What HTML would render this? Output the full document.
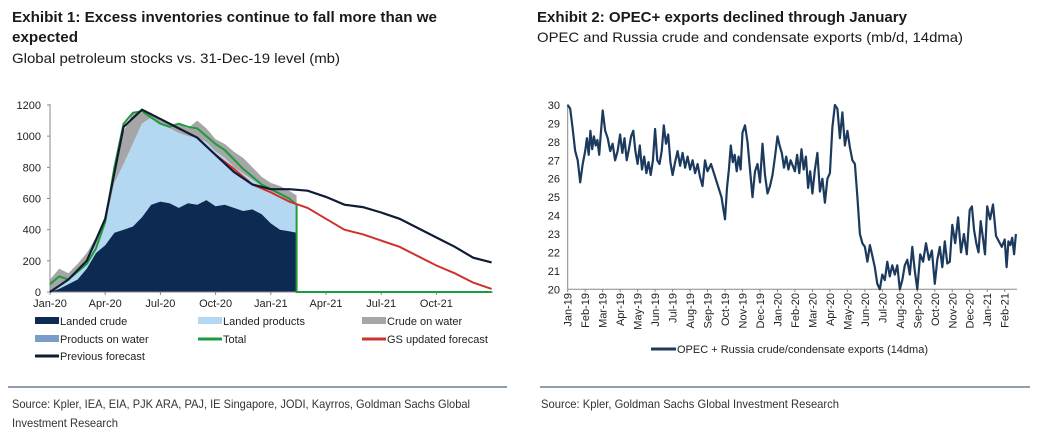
<!DOCTYPE html>
<html><head><meta charset="utf-8"><style>
body{margin:0;background:#fff;width:1038px;height:434px;overflow:hidden;font-family:"Liberation Sans",sans-serif}
svg{display:block}
</style></head><body>
<svg id="s" width="1038" height="434" viewBox="0 0 1038 434" xmlns="http://www.w3.org/2000/svg" font-family="Liberation Sans, sans-serif">
<g fill="#1a1a1a">
<text x="12" y="22" font-size="15" font-weight="bold" textLength="425" lengthAdjust="spacingAndGlyphs">Exhibit 1: Excess inventories continue to fall more than we</text>
<text x="12" y="42" font-size="15" font-weight="bold" textLength="66" lengthAdjust="spacingAndGlyphs">expected</text>
<text x="12" y="63" font-size="14" textLength="328" lengthAdjust="spacingAndGlyphs">Global petroleum stocks vs. 31-Dec-19 level (mb)</text>
<text x="537" y="22" font-size="15" font-weight="bold" textLength="370" lengthAdjust="spacingAndGlyphs">Exhibit 2: OPEC+ exports declined through January</text>
<text x="537" y="42" font-size="14" textLength="426" lengthAdjust="spacingAndGlyphs">OPEC and Russia crude and condensate exports (mb/d, 14dma)</text>
</g>
<line x1="8" y1="387" x2="507" y2="387" stroke="#1f3864" stroke-width="1"/>
<line x1="540" y1="387" x2="1030" y2="387" stroke="#1f3864" stroke-width="1"/>
<g fill="#333" font-size="12">
<text x="12" y="408" textLength="458" lengthAdjust="spacingAndGlyphs">Source: Kpler, IEA, EIA, PJK ARA, PAJ, IE Singapore, JODI, Kayrros, Goldman Sachs Global</text>
<text x="12" y="427" textLength="106" lengthAdjust="spacingAndGlyphs">Investment Research</text>
<text x="541" y="408" textLength="298" lengthAdjust="spacingAndGlyphs">Source: Kpler, Goldman Sachs Global Investment Research</text>
</g>
<g id="c1"></g><g id="c2"></g>
</svg>
<script>
// Chart 1 data (months since Jan-20)
const histMonths=[0,0.5,1,1.5,2,2.5,3,3.5,4,4.5,5,5.5,6,6.5,7,7.5,8,8.5,9,9.5,10,10.5,11,11.5,12,12.5,13,13.4];
const landedCrude=[0,20,50,80,150,250,300,380,400,420,480,560,580,570,540,570,560,590,550,560,540,520,530,500,440,400,390,380];
const landedProductsTop=[0,50,80,130,200,300,430,700,820,950,1080,1120,1080,1050,1020,1000,990,960,900,860,800,760,720,680,650,620,580,560];
const crudeOnWaterTop=[80,150,120,180,250,350,480,820,1030,1150,1150,1150,1100,1080,1080,1050,1100,1050,980,950,900,860,800,740,700,680,650,620];
const totalVals=[50,100,80,130,180,280,450,800,1080,1150,1160,1120,1080,1060,1080,1060,1050,1000,950,910,850,790,740,690,660,630,600,560];
const prevMonths=[0,1,2,3,4,5,6,7,8,9,10,11,12,13,14,15,16,17,18,19,20,21,22,23,24];
const prevForecast=[0,80,200,470,1060,1170,1110,1050,990,880,770,690,660,660,650,610,560,545,510,470,410,350,290,220,190];
const gsMonths=[9,10,11,12,13,14,15,16,17,18,19,20,21,22,23,24];
const gsForecast=[880,790,690,640,580,540,470,400,370,330,290,230,170,120,60,20];
const xLabels1=["Jan-20","Apr-20","Jul-20","Oct-20","Jan-21","Apr-21","Jul-21","Oct-21"];
const yTicks1=[0,200,400,600,800,1000,1200];
// Chart 2 data: readings grouped by month, Jan-19 .. Feb-21
const exportsByMonth=[
[30,29.8,28.7,27.5,27.0,25.8,26.8],
[27.5,28.2,27.3,28.6,27.6,28.3,27.8,28.1,27.3,28.5],
[29.7,28.6,28.2,27.5,27.9,27.0,27.5],
[28.4,27.4,28.2,27.0,27.6,28.3,28.6,27.5],
[26.8,27.8,26.5,27.2,26.3,26.9,26.2,27.0],
[28.7,27.0,26.8,27.5,28.9,27.9,28.4,26.9],
[26.2,26.9,27.5,26.7,27.4,26.6,27.2],
[26.5,27.0,26.3,26.8,26.1,25.6,27.0],
[26.4,26.8,26.2,25.6,25.0],
[23.8,25.5,26.5,27.8,26.9,27.3,26.4,27.2,26.5],
[28.5,28.9,28.0,26.5,25.0,26.4,26.8],
[25.8,27.9,26.2,25.2,25.6,26.2,27.2],
[28.3,27.8,27.4,26.6,27.2,26.5,27.0,26.7],
[26.4,27.3,26.3,27.6,26.5,27.2,25.5,26.4],
[25.2,26.5,27.4,25.3,26.0,24.7,26.0],
[26.3,28.8,30.0,29.8,28.2,29.6,27.8],
[28.6,27.7,27.0,26.8,25.0,23.0,22.5],
[22.3,21.5,22.4,21.8,21.2,20.3,20.0],
[20.8,20.5,21.5,20.7,21.3,20.8,21.3],
[20.0,20.5,21.3,21.6,20.8,22.3,21.0],
[20.0,21.9,21.5,22.5,21.6,22.1],
[20.3,21.6,22.3,21.2,22.6,21.4,21.5],
[23.5,22.5,23.9,22.0,23.0,21.9],
[24.3,24.5,23.2,22.5,22.0,23.7,22.8,21.9],
[24.5,23.8,24.6,22.9,22.6,22.3],
[22.7,21.2,22.6,22.4,22.8,21.9,23.0]
];
const xLabels2=["Jan-19","Feb-19","Mar-19","Apr-19","May-19","Jun-19","Jul-19","Aug-19","Sep-19","Oct-19","Nov-19","Dec-19","Jan-20","Feb-20","Mar-20","Apr-20","May-20","Jun-20","Jul-20","Aug-20","Sep-20","Oct-20","Nov-20","Dec-20","Jan-21","Feb-21"];
const yTicks2=[20,21,22,23,24,25,26,27,28,29,30];

const NS="http://www.w3.org/2000/svg";
function mk(p,t,a){const e=document.createElementNS(NS,t);for(const k in a)e.setAttribute(k,a[k]);p.appendChild(e);return e;}
// chart 1
const c1=document.getElementById('c1');
const x1=m=>50+m*18.4, y1=v=>292-v*(187/1200);
function pts(xs,ys,fx,fy){return xs.map((m,i)=>fx(m).toFixed(1)+','+fy(ys[i]).toFixed(1));}
function area(top,bot,fill,name){
  const p=pts(histMonths,top,x1,y1).concat(pts(histMonths,bot,x1,y1).reverse());
  const e=mk(c1,'polygon',{points:p.join(' '),fill:fill});
  
  
}
const zeros=histMonths.map(()=>0);
area(crudeOnWaterTop,landedProductsTop,'#a6a6a6','crude-on-water-area');
area(landedProductsTop,landedCrude,'#b5d8f2','landed-products-area');
area(landedCrude,zeros,'#0d2b52','landed-crude-area');
mk(c1,'line',{x1:50,y1:104,x2:50,y2:292,stroke:'#888'});
mk(c1,'line',{x1:50,y1:292,x2:493,y2:292,stroke:'#888'});
yTicks1.forEach(v=>{const t=mk(c1,'text',{x:41,y:y1(v)+4,'font-size':11,'text-anchor':'end',fill:'#222'});t.textContent=v;
 
 
 mk(c1,'line',{x1:47,y1:y1(v),x2:50,y2:y1(v),stroke:'#888'});});
xLabels1.forEach((l,i)=>{const t=mk(c1,'text',{x:x1(i*3),y:307,'font-size':11,'text-anchor':'middle',fill:'#222'});t.textContent=l;
 
 
 mk(c1,'line',{x1:x1(i*3),y1:292,x2:x1(i*3),y2:295,stroke:'#888'});});
let tp=pts(histMonths,totalVals,x1,y1);
tp.push(x1(13.4).toFixed(1)+','+y1(0).toFixed(1));tp.push(x1(24).toFixed(1)+','+y1(0).toFixed(1));
let e=mk(c1,'polyline',{points:tp.join(' '),fill:'none',stroke:'#1e9c3c','stroke-width':2});


e=mk(c1,'polyline',{points:pts(gsMonths,gsForecast,x1,y1).join(' '),fill:'none',stroke:'#d0312d','stroke-width':2});


e=mk(c1,'polyline',{points:pts(prevMonths,prevForecast,x1,y1).join(' '),fill:'none',stroke:'#0f1c33','stroke-width':2.2});


const leg=[["Landed crude",'#0d2b52',35,321,'b'],["Landed products",'#b5d8f2',198,321,'b'],["Crude on water",'#a6a6a6',362,321,'b'],
["Products on water",'#7a9cc9',35,339,'b'],["Total",'#1e9c3c',198,339,'l'],["GS updated forecast",'#d0312d',362,339,'l'],["Previous forecast",'#0f1c33',35,356,'l']];
leg.forEach(d=>{
 if(d[4]=='b') mk(c1,'rect',{x:d[2],y:d[3]-4,width:24,height:7,fill:d[1]});
 else mk(c1,'line',{x1:d[2],y1:d[3],x2:d[2]+24,y2:d[3],stroke:d[1],'stroke-width':3});
 const t=mk(c1,'text',{x:d[2]+25,y:d[3]+4,'font-size':11,fill:'#222'});t.textContent=d[0];
 
 
});
// chart 2
const c2=document.getElementById('c2');
const x2=m=>567.7+m*17.48, y2=v=>289.3-(v-20)*18.43;
const ep=[];
exportsByMonth.forEach((arr,mi)=>{
  const span=(mi===exportsByMonth.length-1)?0.75:1;
  arr.forEach((v,j)=>{ep.push(x2(mi+j*span/arr.length).toFixed(1)+','+y2(Math.max(20,Math.min(30,v))).toFixed(1));});
});
mk(c2,'line',{x1:567.7,y1:104,x2:567.7,y2:289.3,stroke:'#888'});
mk(c2,'line',{x1:567.7,y1:289.3,x2:1017,y2:289.3,stroke:'#888'});
yTicks2.forEach(v=>{const t=mk(c2,'text',{x:560,y:y2(v)+4,'font-size':11,'text-anchor':'end',fill:'#222'});t.textContent=v;
 
 });
xLabels2.forEach((l,i)=>{const xx=x2(i);
 mk(c2,'line',{x1:xx,y1:289.3,x2:xx,y2:292,stroke:'#888'});
 const t=mk(c2,'text',{x:xx+4,y:293,'font-size':11,'text-anchor':'end',fill:'#222',transform:`rotate(-90 ${xx+4} 293)`});t.textContent=l;
 
 });
e=mk(c2,'polyline',{points:ep.join(' '),fill:'none',stroke:'#1c3a5e','stroke-width':2.2,'stroke-linejoin':'round'});


mk(c2,'line',{x1:651,y1:349,x2:676,y2:349,stroke:'#1c3a5e','stroke-width':3});
const lt=mk(c2,'text',{x:677,y:353,'font-size':11,fill:'#222'});lt.textContent="OPEC + Russia crude/condensate exports (14dma)";


</script>
</body></html>
